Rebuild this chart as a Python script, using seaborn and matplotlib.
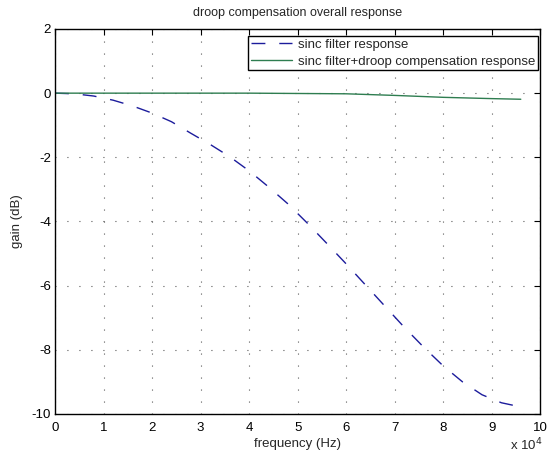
import matplotlib
matplotlib.use("Agg")
import matplotlib.pyplot as plt
import seaborn as sns
import pandas as pd

# frequency (Hz) and gain (dB)
sinc_freq = [0, 4000, 8000, 12000, 16000, 20000, 24000, 28000, 32000, 36000, 40000,
             44000, 48000, 52000, 56000, 60000, 64000, 68000, 72000, 76000, 80000,
             84000, 88000, 92000, 96000]
sinc_gain = [0.0, -0.02, -0.09, -0.22, -0.40, -0.62, -0.89, -1.25, -1.60, -1.98, -2.42,
             -2.92, -3.45, -4.05, -4.68, -5.32, -5.98, -6.64, -7.30, -7.92, -8.50,
             -9.00, -9.40, -9.65, -9.78]
comp_freq = [0, 10000, 20000, 30000, 40000, 50000, 60000, 70000, 80000, 90000, 96000]
comp_gain = [0.0, 0.0, 0.0, 0.0, 0.0, -0.01, -0.02, -0.07, -0.13, -0.17, -0.19]

x_ticks = [0, 10000, 20000, 30000, 40000, 50000, 60000, 70000, 80000, 90000, 100000]
x_tick_labels = ["0", "1", "2", "3", "4", "5", "6", "7", "8", "9", "10"]
y_ticks = [-10, -8, -6, -4, -2, 0, 2]

sns.set_style("white")
plt.rcParams['font.family'] = ['Liberation Sans', 'DejaVu Sans']

fig = plt.figure(figsize=(5.51, 4.58), dpi=100)
ax = fig.add_axes([0.0998, 0.0961, 0.8806, 0.8406])

df1 = pd.DataFrame({"f": sinc_freq, "g": sinc_gain})
df2 = pd.DataFrame({"f": comp_freq, "g": comp_gain})

sns.lineplot(data=df1, x="f", y="g", ax=ax, color="#1c1c9c", linewidth=1.0,
             label="sinc filter response")
ax.lines[-1].set_dashes((10, 10))
sns.lineplot(data=df2, x="f", y="g", ax=ax, color="#2e7d50", linewidth=1.0,
             label="sinc filter+droop compensation response")

ax.set_xlim(0, 100000)
ax.set_ylim(-10, 2)
ax.set_xticks(x_ticks)
ax.set_xticklabels(x_tick_labels)
ax.set_yticks(y_ticks)
ax.set_yticklabels([str(v) for v in y_ticks])

ax.grid(True, color="#333333", linestyle=(0, (0.8, 10)), linewidth=0.8)
for s in ax.spines.values():
    s.set_visible(True)
    s.set_color("black")
    s.set_linewidth(1.0)
ax.tick_params(direction="in", length=4, width=0.8, top=True, right=True,
               labelsize=9.5, colors="black")
ax.tick_params(axis="x", pad=6)
ax.tick_params(axis="y", pad=3)

ax.set_title("droop compensation overall response", fontsize=9, pad=9)
ax.set_xlabel("frequency (Hz)", fontsize=9.5, labelpad=3)
ax.set_ylabel("gain (dB)", fontsize=9.5, labelpad=6)
ax.text(1.004, -0.08, "x 10$^4$", transform=ax.transAxes, fontsize=9.5,
        ha="right", va="center")

leg = ax.legend(loc="upper right", bbox_to_anchor=(0.9959, 0.9818), fontsize=9.5,
                frameon=True, fancybox=False, edgecolor="black", framealpha=1,
                borderaxespad=0, handlelength=3.1, borderpad=0.2,
                labelspacing=0.36, handletextpad=0.5)
leg.get_frame().set_linewidth(1.0)

fig.savefig("out.png", dpi=100)
